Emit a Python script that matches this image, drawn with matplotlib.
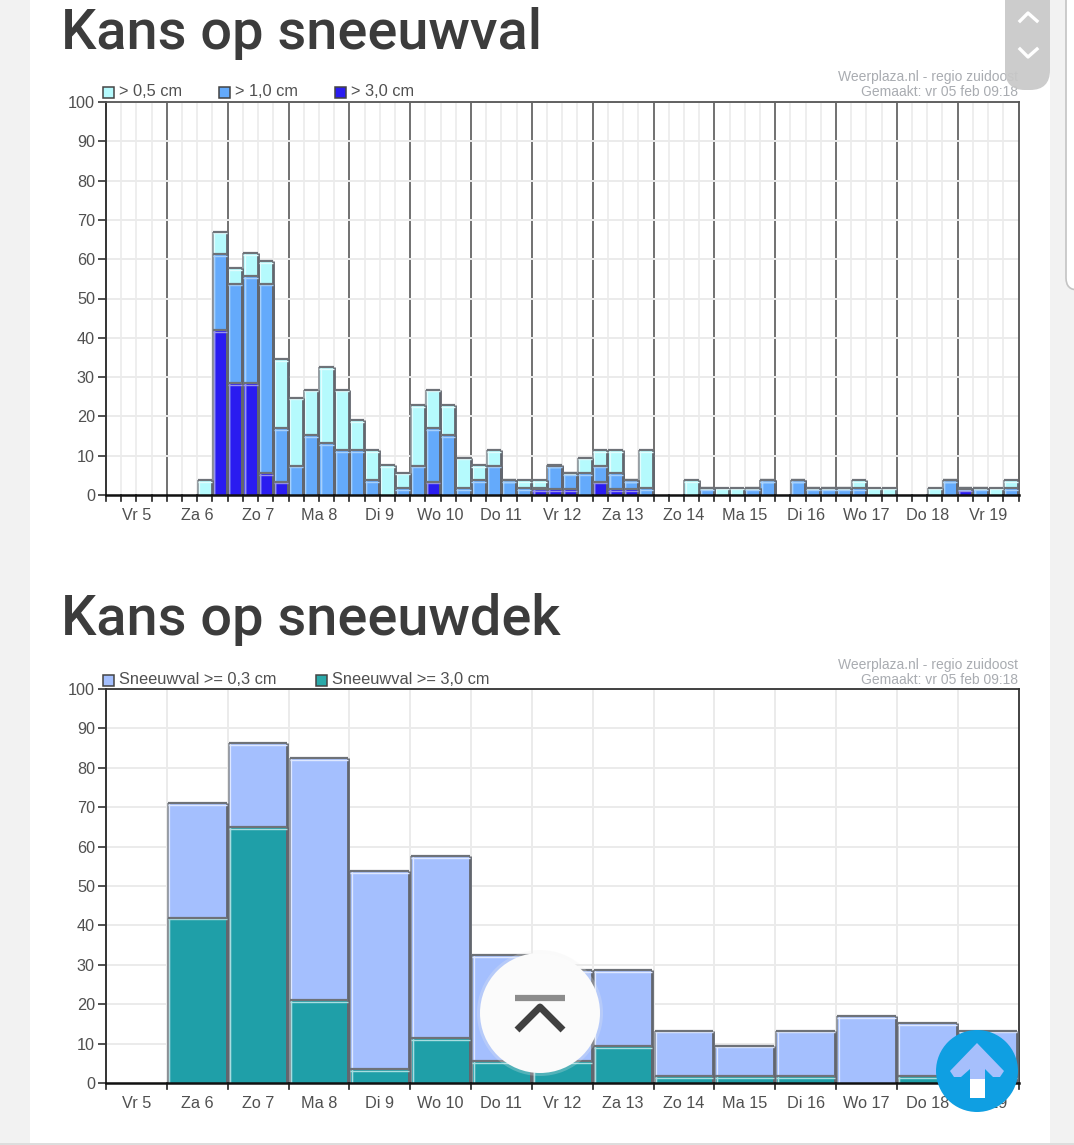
import matplotlib
matplotlib.use('Agg')
import matplotlib.pyplot as plt
from matplotlib.patches import Circle, Rectangle, FancyBboxPatch, Polygon

days = ['Vr 5','Za 6','Zo 7','Ma 8','Di 9','Wo 10','Do 11','Vr 12','Za 13','Zo 14','Ma 15','Di 16','Wo 17','Do 18','Vr 19']

gt05 = [0,0,0,0, 0,0,3.8,67, 57.7,61.5,59.5,34.5, 24.8,26.8,32.6,26.8, 19.1,11.4,7.6,5.7,
        22.9,26.8,22.9,9.5, 7.6,11.4,3.8,3.8, 3.8,7.6,5.7,9.5, 11.4,11.4,3.8,11.4,
        0,0,3.8,1.9, 1.9,1.9,1.9,3.8, 0,3.8,1.9,1.9, 1.9,3.8,1.9,1.9, 0,0,1.9,3.8, 1.9,1.9,1.9,3.8]
gt10 = [0,0,0,0, 0,0,0,61.3, 53.8,55.7,53.8,17, 7.5,15.2,13.2,11.4, 11.4,3.7,0,1.8,
        7.5,17,15.2,1.8, 3.7,7.5,3.7,1.8, 1.9,7.5,5.6,5.6, 7.5,5.6,3.7,1.8,
        0,0,0,1.8, 0,0,1.8,3.7, 0,3.7,1.8,1.8, 1.8,1.8,0,0, 0,0,0,3.7, 1.8,1.8,0,1.8]
gt30 = [0,0,0,0, 0,0,0,42, 28.5,28.5,5.5,3.4, 0,0,0,0, 0,0,0,0,
        0,3.4,0,0, 0,0,0,0, 1.5,1.5,1.5,0, 3.4,1.5,1.5,0,
        0,0,0,0, 0,0,0,0, 0,0,0,0, 0,0,0,0, 0,0,0,0, 1.5,0,0,0]

cover03 = [0,71,86.3,82.5,53.8,57.5,32.5,28.7,28.7,13.3,9.5,13.3,17,15.2,13.3]
cover30 = [0,42,65,21,3.5,11.3,5.5,5.5,9.4,1.7,1.7,1.7,0,1.7,1.7]

W, H = 1074, 1145
fig = plt.figure(figsize=(W/100, H/100), dpi=100, facecolor='#f2f2f2')
plt.rcParams['font.family'] = ['Liberation Sans', 'DejaVu Sans']
TXT = '#505050'
GRID = '#ebebeb'

def box(l, t, r, b):
    return [l/W, 1-b/H, (r-l)/W, (b-t)/H]

bg = fig.add_axes([0,0,1,1], zorder=0)
bg.set_xlim(0,W); bg.set_ylim(H,0); bg.axis('off')
bg.add_patch(Rectangle((30,0),1020,1143,fc='white',ec='none'))
bg.add_patch(Rectangle((0,1143),W,2,fc='#dddddd',ec='none'))
bg.add_patch(FancyBboxPatch((1066,-40),30,330,boxstyle='round,pad=0,rounding_size=12',fc='white',ec='#c4c4c4',lw=1.2))
title_kw = dict(family='Roboto', fontweight='medium', fontsize=40.2, color='#3c3c3c', va='center', ha='left')
bg.text(61, 33, 'Kans op sneeuwval', **title_kw)
bg.text(61, 620, 'Kans op sneeuwdek', **title_kw)

def bevel_bars(ax, x, v, w, color, hi, dy, inset):
    xs = [a for a, b in zip(x, v) if b > 0]
    vs = [b for b in v if b > 0]
    left = [a - w/2 for a in xs]
    right = [a + w/2 for a in xs]
    ax.bar(xs, vs, width=w, align='center', color=color, edgecolor='none', zorder=3)
    ax.vlines(left, 0, vs, color='#8a8e94', lw=1.2, zorder=3.1)
    ax.vlines([a + inset for a in left], 0, vs, color=hi, lw=0.9, zorder=3.1)
    ax.vlines(right, 0, vs, color='#62666e', lw=2.0, zorder=3.2)
    ax.hlines([b - dy for b in vs], left, right, color=hi, lw=1.0, zorder=3.2)
    ax.hlines(vs, left, right, color='#6e7278', lw=1.6, zorder=3.3)

def setup(l, t, r, b, edge):
    ax = fig.add_axes(box(l,t,r,b), zorder=2, facecolor='white')
    ax.set_xlim(0,15); ax.set_ylim(0,100)
    ax.set_yticks(range(0,101,10))
    ax.tick_params(axis='y', length=6, width=1.2, color='#333333', labelsize=11.7, labelcolor=TXT, pad=2)
    ax.grid(axis='y', color=GRID, lw=1.4, zorder=0)
    for s in ['top','right']:
        ax.spines[s].set_color(edge); ax.spines[s].set_linewidth(1.3)
    ax.spines['left'].set_color('#333333'); ax.spines['left'].set_linewidth(1.4)
    ax.spines['bottom'].set_color('#111111'); ax.spines['bottom'].set_linewidth(1.8)
    ax.spines['bottom'].set_zorder(6)
    ax.set_xticks([i+0.5 for i in range(15)], days, fontsize=11.7, color=TXT)
    ax.tick_params(axis='x', length=0, pad=9)
    return ax

def sources(t1, t2):
    bg.text(1018, t1, 'Weerplaza.nl - regio zuidoost', fontsize=10, color='#a9acb1', ha='right', va='center')
    bg.text(1018, t2, 'Gemaakt: vr 05 feb 09:18', fontsize=10, color='#a9acb1', ha='right', va='center')

def legend(items, y):
    for px, col, lab in items:
        bg.add_patch(Rectangle((px,y-5.5),11,11,fc=col,ec='#444444',lw=1.1))
        bg.text(px+16, y, lab, fontsize=11.8, color=TXT, va='center', ha='left')

# ---------- snowfall chart
ax1 = setup(106,102,1018.5,495,'#555555')
xq = [(i+0.5)/4 for i in range(60)]
for d in range(1,15):
    ax1.axvline(d, color='#666666', lw=1.3, zorder=1)
for q in range(60):
    if q % 4:
        ax1.axvline(q/4, color=GRID, lw=1.2, zorder=0.5)
bevel_bars(ax1, xq, gt05, 0.235, '#b5fafd', '#e2fdfe', 0.45, 0.02)
bevel_bars(ax1, xq, gt10, 0.235, '#64aafb', '#a7d0fb', 0.45, 0.02)
bevel_bars(ax1, xq, gt30, 0.235, '#2a1cf0', '#9a94ea', 0.45, 0.02)
for q in range(61):
    ax1.plot([q/4,q/4],[0,-1.5],color='#222222',lw=1.2,clip_on=False,zorder=5)
legend([(103,'#b5fafd','> 0,5 cm'),(219,'#64aafb','> 1,0 cm'),(335,'#2a1cf0','> 3,0 cm')], 92)
sources(77.5,92.5)

# ---------- snow cover chart
ax2 = setup(106,689,1018.5,1083,'#333333')
for d in range(1,15):
    ax2.axvline(d, color=GRID, lw=1.4, zorder=0.5)
xd = [i+0.5 for i in range(15)]
bevel_bars(ax2, xd, cover03, 0.965, '#a4bffe', '#dfe8ff', 0.45, 0.025)
bevel_bars(ax2, xd, cover30, 0.965, '#1f9fa8', '#a8dde0', 0.45, 0.025)
for q in range(16):
    ax2.plot([q,q],[0,-1.5],color='#222222',lw=1.2,clip_on=False,zorder=5)
legend([(103,'#a4bffe','Sneeuwval >= 0,3 cm'),(316,'#2aa9a9','Sneeuwval >= 3,0 cm')], 680)
sources(664.5,679.5)

# ---------- screen overlays
top = fig.add_axes([0,0,1,1], zorder=5)
top.set_xlim(0,W); top.set_ylim(H,0); top.axis('off'); top.patch.set_alpha(0)
top.add_patch(FancyBboxPatch((1005,-40),45,130,boxstyle='round,pad=0,rounding_size=20',fc='#c8c8c8',ec='none',alpha=0.93))
for pts in ([(1020,21),(1028,13),(1037,21)], [(1020,49),(1028,57),(1037,49)]):
    top.plot(*zip(*pts), color='white', lw=2.4)
top.add_patch(Circle((540,1013),63,fc='#eeeeee',ec='none',alpha=0.25))
top.add_patch(Circle((540,1013),60,fc='#fbfbfb',ec='none'))
top.plot([515,565],[998,998],color='#8c8c8c',lw=4.5,solid_capstyle='butt')
top.plot([517,540,563],[1030,1007,1030],color='#404040',lw=5,solid_capstyle='butt')
top.add_patch(Circle((977,1071),41,fc='#0f9fe2',ec='none'))
top.add_patch(Polygon([(977,1043),(1004,1071),(1000,1077),(993,1077),(985,1069),(985,1098),(970,1098),(970,1069),(961,1077),(954,1077),(950,1071)],fc='#a6bffc',ec='none'))
top.add_patch(Polygon([(970,1079),(985,1079),(985,1098),(970,1098)],fc='white',ec='none'))

fig.savefig('out.png', dpi=100, facecolor=fig.get_facecolor())
